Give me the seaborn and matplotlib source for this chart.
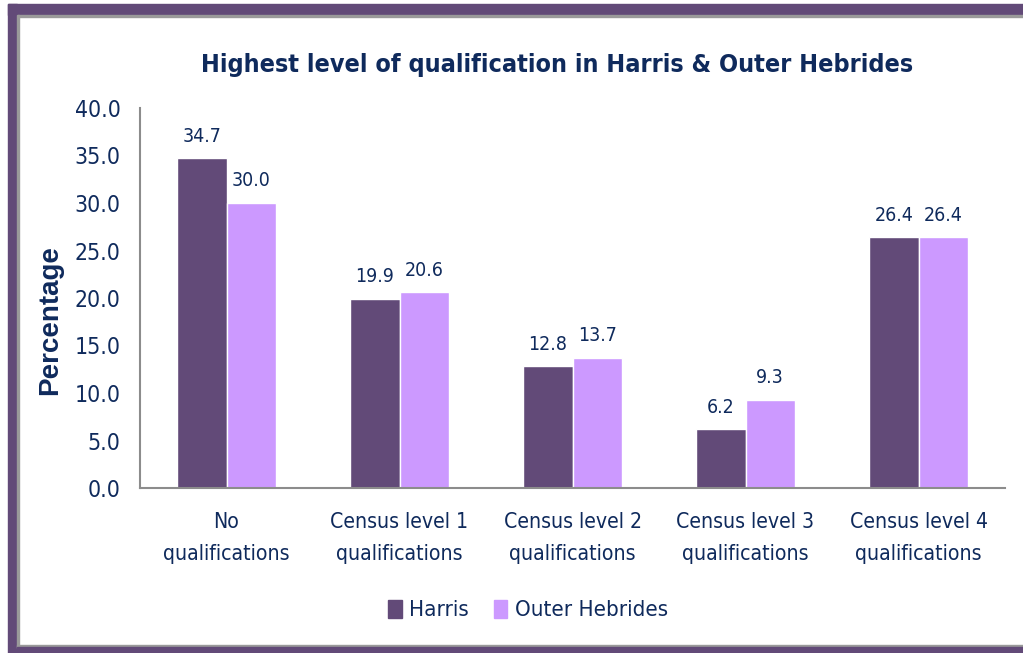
import matplotlib
matplotlib.use("Agg")
import matplotlib.pyplot as plt
import matplotlib.patches as mpatches
import seaborn as sns
import pandas as pd
from matplotlib import font_manager
from matplotlib.font_manager import FontProperties
import os

categories = ["No\nqualifications", "Census level 1\nqualifications", "Census level 2\nqualifications",
              "Census level 3\nqualifications", "Census level 4\nqualifications"]
harris = [34.7, 19.9, 12.8, 6.2, 26.4]
outer_hebrides = [30.0, 20.6, 13.7, 9.3, 26.4]
series_names = ["Harris", "Outer Hebrides"]
colors = ["#624a78", "#cc99ff"]
yticks = [0, 5, 10, 15, 20, 25, 30, 35, 40]

df = pd.DataFrame({
    "category": categories * 2,
    "value": harris + outer_hebrides,
    "series": [series_names[0]] * len(categories) + [series_names[1]] * len(categories),
})

sns.set_theme(style="white")
plt.rcParams["font.family"] = ["Liberation Sans", "DejaVu Sans"]

files = [f.fname for f in font_manager.fontManager.ttflist]
def find(keys):
    for k in keys:
        for fn in files:
            if os.path.basename(fn).lower() == k.lower():
                return fn
    return None
reg = find(["LiberationSansNarrow-Regular.ttf", "DejaVuSansCondensed.ttf"])
bold = find(["LiberationSansNarrow-Bold.ttf", "DejaVuSansCondensed-Bold.ttf"])
def fp(size, b=False):
    f = bold if b else reg
    if f:
        return FontProperties(fname=f, size=size)
    return FontProperties(family="Liberation Sans", size=size, weight="bold" if b else "normal")

txt = "#0f2a5c"

fig = plt.figure(figsize=(10.23, 6.53), dpi=100)
ax = fig.add_axes([140 / 1023, 1 - 488 / 653, 865 / 1023, 380 / 653])

sns.barplot(data=df, x="category", y="value", hue="series", palette=colors,
            width=0.57, saturation=1, ax=ax, legend=False)

for cont in ax.containers:
    for t in ax.bar_label(cont, fmt="%.1f", padding=9, color=txt):
        t.set_fontproperties(fp(14))

ax.set_ylim(0, 40)
ax.set_yticks(yticks)
ax.set_yticklabels([f"{v:.1f}" for v in yticks], color=txt)
for t in ax.get_yticklabels():
    t.set_fontproperties(fp(16.5))
for t in ax.get_xticklabels():
    t.set_fontproperties(fp(15.2))
    t.set_linespacing(1.75)
ax.tick_params(axis="x", colors=txt, pad=17, length=0)
ax.tick_params(axis="y", pad=14, length=0)
ax.set_xlabel("")
ax.set_ylabel("Percentage", fontsize=20, fontweight="bold", color=txt,
              family=["Liberation Sans", "DejaVu Sans"])
ax.yaxis.label.set_verticalalignment("center")
ax.yaxis.set_label_coords((50 - 140) / 865, (488 - 320) / 380)
for s in ["top", "right"]:
    ax.spines[s].set_visible(False)
for s in ["left", "bottom"]:
    ax.spines[s].set_color("#8c8c8c")
    ax.spines[s].set_linewidth(1.5)

fig.text(557 / 1023, 1 - 65 / 653, "Highest level of qualification in Harris & Outer Hebrides",
         ha="center", va="center", color=txt, fontproperties=fp(18, True))

handles = [mpatches.Patch(color=c, label=n) for c, n in zip(colors, series_names)]
fig.legend(handles=handles, loc="center", bbox_to_anchor=(528 / 1023, 1 - 610 / 653), ncol=2,
           frameon=False, prop=fp(16), handlelength=0.6, handleheight=0.9, handletextpad=0.35,
           columnspacing=1.1, labelcolor=txt)

# frame
W, H = 1023, 653
purple = "#624a78"
gray = "#9a9a9a"
def rect(x, y, w, h, c):
    fig.patches.append(mpatches.Rectangle((x / W, 1 - (y + h) / H), w / W, h / H,
                                          transform=fig.transFigure, color=c, zorder=10))
rect(8, 4, W - 8, 11, purple)
rect(17, 15, W - 17, 2, gray)
rect(8, 4, 9, H - 4, purple)
rect(17, 15, 2, H - 20, gray)
rect(17, 645, W - 17, 2, gray)
rect(17, 647, W - 17, 6, purple)

fig.savefig("out.png", dpi=100)
